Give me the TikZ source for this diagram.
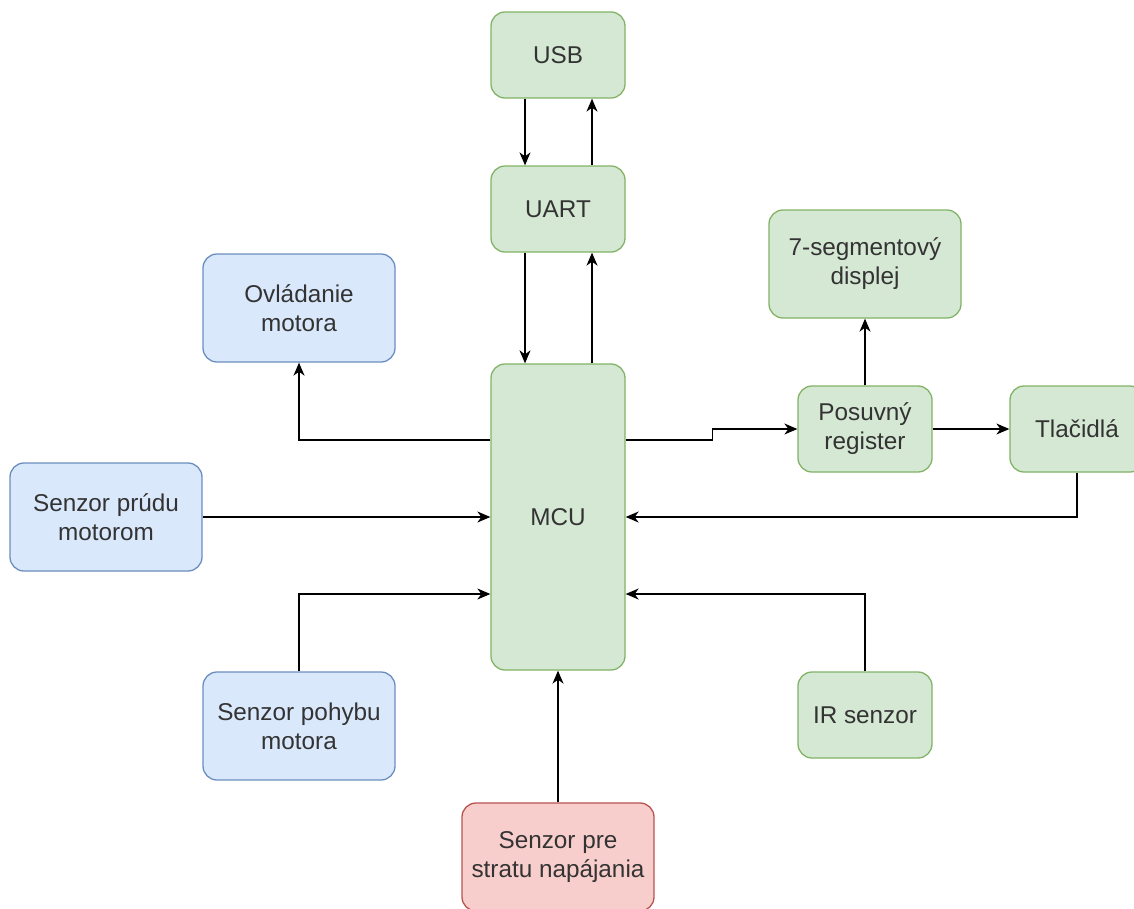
\documentclass[tikz,border=0pt]{standalone}
\usepackage{fontspec}
\setmainfont{Liberation Sans}
\usetikzlibrary{arrows.meta}
\definecolor{gfill}{HTML}{D5E8D4}
\definecolor{gline}{HTML}{82B366}
\definecolor{bfill}{HTML}{DAE8FC}
\definecolor{bline}{HTML}{6C8EBF}
\definecolor{rfill}{HTML}{F8CECC}
\definecolor{rline}{HTML}{B85450}
\definecolor{txt}{HTML}{333333}
\begin{document}
\begin{tikzpicture}[x=1pt,y=-1pt,
  box/.style={rounded corners=14pt, line width=1.3pt, align=center, text=txt,
    font=\fontsize{24.3}{29}\selectfont, inner sep=0pt},
  gbox/.style={box, fill=gfill, draw=gline},
  bbox/.style={box, fill=bfill, draw=bline},
  rbox/.style={box, fill=rfill, draw=rline},
  small/.style={minimum width=134pt, minimum height=86pt},
  large/.style={minimum width=192pt, minimum height=108pt},
  conn/.style={line width=1.3pt, -{Stealth[length=13pt,width=11pt,inset=4pt]}}]
\clip (0,0) rectangle (1134,908);
\fill[white] (0,0) rectangle (1134,908);

\node[gbox, small] (usb) at (558,55) {USB};
\node[gbox, small] (uart) at (558,209) {UART};
\node[gbox, minimum width=134pt, minimum height=306pt] (mcu) at (558,517) {MCU};
\node[bbox, large] (ovl) at (299,308) {Ovládanie\\motora};
\node[gbox, large] (seg) at (865,264) {7-segmentový\\displej};
\node[gbox, small] (pos) at (865,429) {Posuvný\\register};
\node[gbox, small] (tla) at (1077,429) {Tlačidlá};
\node[bbox, large] (prud) at (106,517) {Senzor prúdu\\motorom};
\node[bbox, large] (poh) at (299,726) {Senzor pohybu\\motora};
\node[gbox, small] (ir) at (865,715) {IR senzor};
\node[rbox, large] (str) at (558,857) {Senzor pre\\stratu napájania};

\draw[conn] ([xshift=-33pt]usb.south) -- ([xshift=-33pt]uart.north);
\draw[conn] ([xshift=34pt]uart.north) -- ([xshift=34pt]usb.south);
\draw[conn] ([xshift=-33pt]uart.south) -- ([xshift=-33pt]mcu.north);
\draw[conn] ([xshift=34pt]mcu.north) -- ([xshift=34pt]uart.south);
\draw[conn] ([yshift=77pt]mcu.west) -| (ovl.south);
\draw[conn] (prud.east) -- (mcu.west);
\draw[conn] (poh.north) |- ([yshift=-77pt]mcu.west);
\draw[conn] (str.north) -- (mcu.south);
\draw[conn] ([yshift=77pt]mcu.east) -- ++(87,0) |- (pos.west);
\draw[conn] (pos.north) -- (seg.south);
\draw[conn] (pos.east) -- (tla.west);
\draw[conn] (tla.south) |- (mcu.east);
\draw[conn] (ir.north) |- ([yshift=-77pt]mcu.east);
\end{tikzpicture}
\end{document}
